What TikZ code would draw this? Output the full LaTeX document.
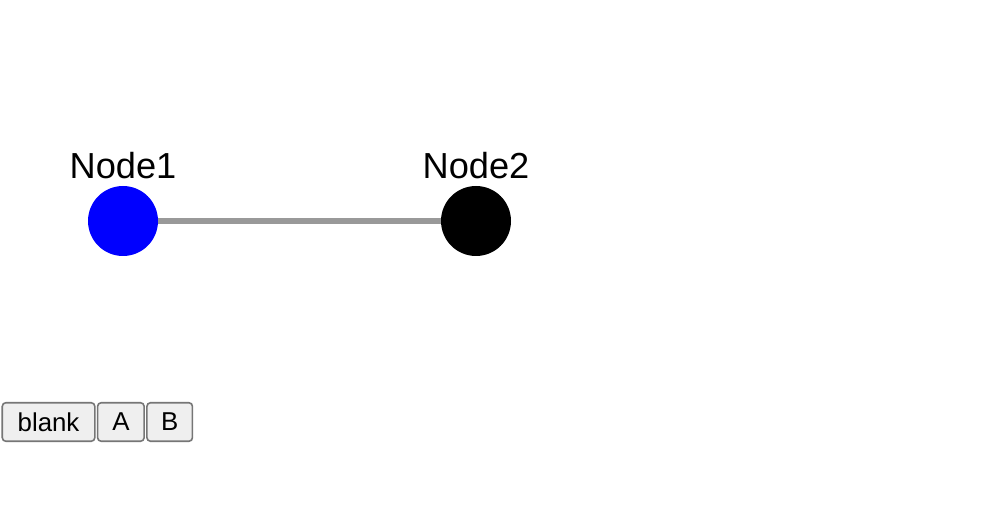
\documentclass[tikz,border=0pt]{standalone}
\usepackage{fontspec}
\setmainfont{Liberation Sans}
\usetikzlibrary{positioning}

\definecolor{edgegray}{HTML}{999999}
\definecolor{btnfill}{HTML}{EFEFEF}
\definecolor{btnline}{HTML}{767676}

\begin{document}
\begin{tikzpicture}[
  dot/.style={circle,draw=none,minimum size=1.4cm,inner sep=0pt},
  nodelabel/.style={font=\fontsize{20.6}{22}\selectfont,text=black,inner sep=0pt},
  button/.style={rectangle,rounded corners=2pt,draw=btnline,line width=0.9pt,fill=btnfill,
    minimum height=0.77cm,inner sep=0pt,font=\fontsize{14.7}{16}\selectfont,text=black}
]
\useasboundingbox[fill=white] (0,0) rectangle (20,10.56);

\node[dot,fill=blue] (n1) at (2.46,6.14) {};
\node[dot,fill=black] (n2) at (9.52,6.14) {};
\draw[edgegray,line width=0.11cm] (n1) -- (n2);
\node[nodelabel,above=0.12cm of n1] (n1label) {Node1};
\node[nodelabel,above=0.12cm of n2] (n2label) {Node2};

\node[button,minimum width=1.85cm,anchor=west] (blank) at (0.03,2.12) {blank};
\node[button,minimum width=0.93cm,right=0.025cm of blank] (btnA) {A};
\node[button,minimum width=0.91cm,right=0.025cm of btnA] (btnB) {B};
\end{tikzpicture}
\end{document}
